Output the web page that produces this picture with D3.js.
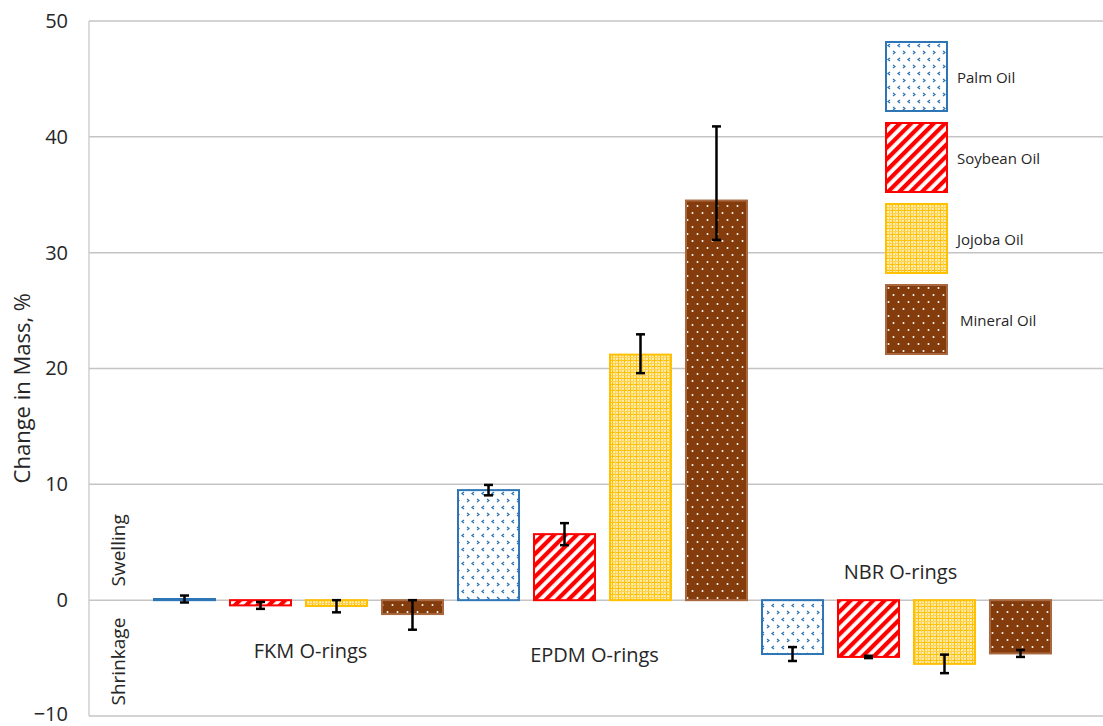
<!DOCTYPE html>
<html>
<head>
<meta charset="utf-8">
<script src="https://cdn.jsdelivr.net/npm/d3@7"></script>
<style>
  body { margin: 0; background: #fff; }
  svg text { font-family: "Open Sans", "Noto Sans", sans-serif; fill: #262626; }
</style>
</head>
<body>
<figure id="mass" style="margin:0"></figure>
<script>
// categories and series
const groups = ['FKM O-rings', 'EPDM O-rings', 'NBR O-rings'];
const oils = ['Palm Oil', 'Soybean Oil', 'Jojoba Oil', 'Mineral Oil'];

// change in mass, % (one array per oil, in group order)
const palmOil = [0.1, 9.5, -4.65];
const soybeanOil = [-0.45, 5.7, -4.9];
const jojobaOil = [-0.5, 21.2, -5.5];
const mineralOil = [-1.2, 34.5, -4.6];

// error bars (upper / lower extent)
const errPlus = {
  'Palm Oil': [0.3, 0.45, 0.6],
  'Soybean Oil': [0.3, 0.95, 0.1],
  'Jojoba Oil': [0.5, 1.75, 0.8],
  'Mineral Oil': [1.2, 6.4, 0.3]
};
const errMinus = {
  'Palm Oil': [0.3, 0.45, 0.6],
  'Soybean Oil': [0.3, 0.95, 0.1],
  'Jojoba Oil': [0.55, 1.6, 0.8],
  'Mineral Oil': [1.35, 3.4, 0.3]
};

const yTicks = [-10, 0, 10, 20, 30, 40, 50];

const seriesValues = {
  'Palm Oil': palmOil,
  'Soybean Oil': soybeanOil,
  'Jojoba Oil': jojobaOil,
  'Mineral Oil': mineralOil
};

const width = 1103, height = 726;
const plotLeft = 89, plotTop = 21, plotBottom = 716;

const svg = d3.select('figure#mass')
  .append('svg')
  .attr('width', width)
  .attr('height', height);

// fill patterns for each oil
const defs = svg.append('defs');

// palm: small blue chevrons on white
const pPalm = defs.append('pattern').attr('id', 'pat-palm')
  .attr('patternUnits', 'userSpaceOnUse').attr('width', 10).attr('height', 14);
pPalm.append('rect').attr('width', 10).attr('height', 14).attr('fill', '#fff');
pPalm.append('path').attr('d', 'M4,2 L2,3.5 L4,5').attr('fill', 'none')
  .attr('stroke', '#2E75B6').attr('stroke-width', 1.3);
pPalm.append('path').attr('d', 'M7,9 L9,10.5 L7,12').attr('fill', 'none')
  .attr('stroke', '#2E75B6').attr('stroke-width', 1.3);

// soybean: wide upward diagonal red stripes
const pSoy = defs.append('pattern').attr('id', 'pat-soy')
  .attr('patternUnits', 'userSpaceOnUse').attr('width', 8).attr('height', 8)
  .attr('patternTransform', 'rotate(45)');
pSoy.append('rect').attr('width', 8).attr('height', 8).attr('fill', '#fff');
pSoy.append('rect').attr('width', 4.2).attr('height', 8).attr('fill', '#FF0000');

// jojoba: gold grid on light yellow with white specks
const pJoj = defs.append('pattern').attr('id', 'pat-jojoba')
  .attr('patternUnits', 'userSpaceOnUse').attr('width', 6).attr('height', 6);
pJoj.append('rect').attr('width', 6).attr('height', 6).attr('fill', '#FFE699');
pJoj.append('path').attr('d', 'M0,0.5 H6 M0.5,0 V6').attr('stroke', '#FFC000')
  .attr('stroke-width', 1);
pJoj.append('path').attr('d', 'M0,3.5 H6 M3.5,0 V6').attr('stroke', '#FFD24D')
  .attr('stroke-width', 1);
pJoj.append('rect').attr('x', 1.5).attr('y', 1.5).attr('width', 1.3).attr('height', 1.3).attr('fill', '#fff');
pJoj.append('rect').attr('x', 4.3).attr('y', 4.3).attr('width', 1).attr('height', 1).attr('fill', '#FFF7DD');

// mineral: brown with white dots
const pMin = defs.append('pattern').attr('id', 'pat-mineral')
  .attr('patternUnits', 'userSpaceOnUse').attr('width', 10).attr('height', 14);
pMin.append('rect').attr('width', 10).attr('height', 14).attr('fill', '#843C0C');
pMin.append('circle').attr('cx', 2.5).attr('cy', 3).attr('r', 1).attr('fill', '#fff');
pMin.append('circle').attr('cx', 7.5).attr('cy', 10).attr('r', 1).attr('fill', '#fff');

const fills = {
  'Palm Oil': 'url(#pat-palm)',
  'Soybean Oil': 'url(#pat-soy)',
  'Jojoba Oil': 'url(#pat-jojoba)',
  'Mineral Oil': 'url(#pat-mineral)'
};
const strokes = {
  'Palm Oil': '#2E75B6',
  'Soybean Oil': '#FF0000',
  'Jojoba Oil': '#FFC000',
  'Mineral Oil': '#A9683F'
};

// scales
const y = d3.scaleLinear().domain([-10, 50]).range([plotBottom, plotTop]);

const x0 = d3.scaleBand()
  .domain(groups)
  .range([146.5, 1058.5]);

const x1 = d3.scaleBand()
  .domain(oils)
  .range([0, x0.bandwidth()])
  .paddingInner(0.197)
  .paddingOuter(0.0987);

// gridlines (including the zero line and the -10 base line)
svg.append('g')
  .selectAll('line')
  .data(yTicks)
  .enter()
  .append('line')
  .attr('x1', plotLeft)
  .attr('x2', width)
  .attr('y1', d => y(d))
  .attr('y2', d => y(d))
  .attr('stroke', '#C4C4C4')
  .attr('stroke-width', 1.5);

// left axis line
svg.append('line')
  .attr('x1', plotLeft).attr('x2', plotLeft)
  .attr('y1', y(50)).attr('y2', y(-10))
  .attr('stroke', '#C4C4C4')
  .attr('stroke-width', 1.2);

// Y axis tick labels via d3 axis
const yAxis = svg.append('g')
  .attr('transform', `translate(${plotLeft},0)`)
  .call(d3.axisLeft(y).tickValues(yTicks).tickSize(0).tickPadding(21));
yAxis.select('.domain').remove();
yAxis.selectAll('text')
  .style('font-family', '"Open Sans", sans-serif')
  .style('font-size', '20px')
  .attr('fill', '#262626');
// bottom label sits at the picture edge; lift it slightly
yAxis.selectAll('.tick').filter(d => d === -10).select('text').attr('dy', '0.2em');

// axis title
svg.append('text')
  .attr('transform', `translate(30,${y(18.3)}) rotate(-90)`)
  .attr('text-anchor', 'middle')
  .style('font-size', '22px')
  .text('Change in Mass, %');

svg.append('text')
  .attr('transform', `translate(125,${y(4.3)}) rotate(-90)`)
  .attr('text-anchor', 'middle')
  .style('font-size', '19px')
  .text('Swelling');

svg.append('text')
  .attr('transform', `translate(125,${y(-5.3)}) rotate(-90)`)
  .attr('text-anchor', 'middle')
  .style('font-size', '19px')
  .text('Shrinkage');

// bars
const rows = [];
groups.forEach((g, i) => {
  oils.forEach(o => {
    rows.push({
      group: g, oil: o, value: seriesValues[o][i],
      plus: errPlus[o][i], minus: errMinus[o][i]
    });
  });
});

svg.append('g')
  .selectAll('rect')
  .data(rows)
  .enter()
  .append('rect')
  .attr('x', d => x0(d.group) + x1(d.oil))
  .attr('y', d => y(Math.max(0, d.value)))
  .attr('width', x1.bandwidth())
  .attr('height', d => Math.max(1, Math.abs(y(d.value) - y(0))))
  .attr('fill', d => fills[d.oil])
  .attr('stroke', d => strokes[d.oil])
  .attr('stroke-width', 2);

// error bars
const eb = svg.append('g')
  .selectAll('g')
  .data(rows)
  .enter()
  .append('g')
  .attr('transform', d => `translate(${x0(d.group) + x1(d.oil) + x1.bandwidth() / 2},0)`);

eb.append('line')
  .attr('y1', d => y(d.value + d.plus))
  .attr('y2', d => y(d.value - d.minus))
  .attr('stroke', '#000')
  .attr('stroke-width', 2.5);

eb.append('line')
  .attr('x1', -4.5).attr('x2', 4.5)
  .attr('y1', d => y(d.value + d.plus))
  .attr('y2', d => y(d.value + d.plus))
  .attr('stroke', '#000')
  .attr('stroke-width', 2.5);

eb.append('line')
  .attr('x1', -4.5).attr('x2', 4.5)
  .attr('y1', d => y(d.value - d.minus))
  .attr('y2', d => y(d.value - d.minus))
  .attr('stroke', '#000')
  .attr('stroke-width', 2.5);

// group labels placed as text boxes in the plot
const groupLabelPos = {
  'FKM O-rings': { dx: 12, v: -4.95 },
  'EPDM O-rings': { dx: -8, v: -5.3 },
  'NBR O-rings': { dx: -6, v: 1.85 }
};
svg.append('g')
  .selectAll('text')
  .data(groups)
  .enter()
  .append('text')
  .attr('x', d => x0(d) + x0.bandwidth() / 2 + groupLabelPos[d].dx)
  .attr('y', d => y(groupLabelPos[d].v))
  .attr('text-anchor', 'middle')
  .style('font-size', '20px')
  .text(d => d);

// legend
const legend = svg.append('g')
  .attr('transform', 'translate(886,42)');

const lg = legend.selectAll('g')
  .data(oils)
  .enter()
  .append('g')
  .attr('transform', (d, i) => `translate(0,${i * 81})`);

lg.append('rect')
  .attr('width', 61)
  .attr('height', 69)
  .attr('fill', d => fills[d])
  .attr('stroke', d => strokes[d])
  .attr('stroke-width', 2);

lg.append('text')
  .attr('x', (d, i) => 71 + (i === 3 ? 3 : 0))
  .attr('y', 36)
  .attr('dy', '0.35em')
  .style('font-size', '15px')
  .text(d => d);
</script>
</body>
</html>
